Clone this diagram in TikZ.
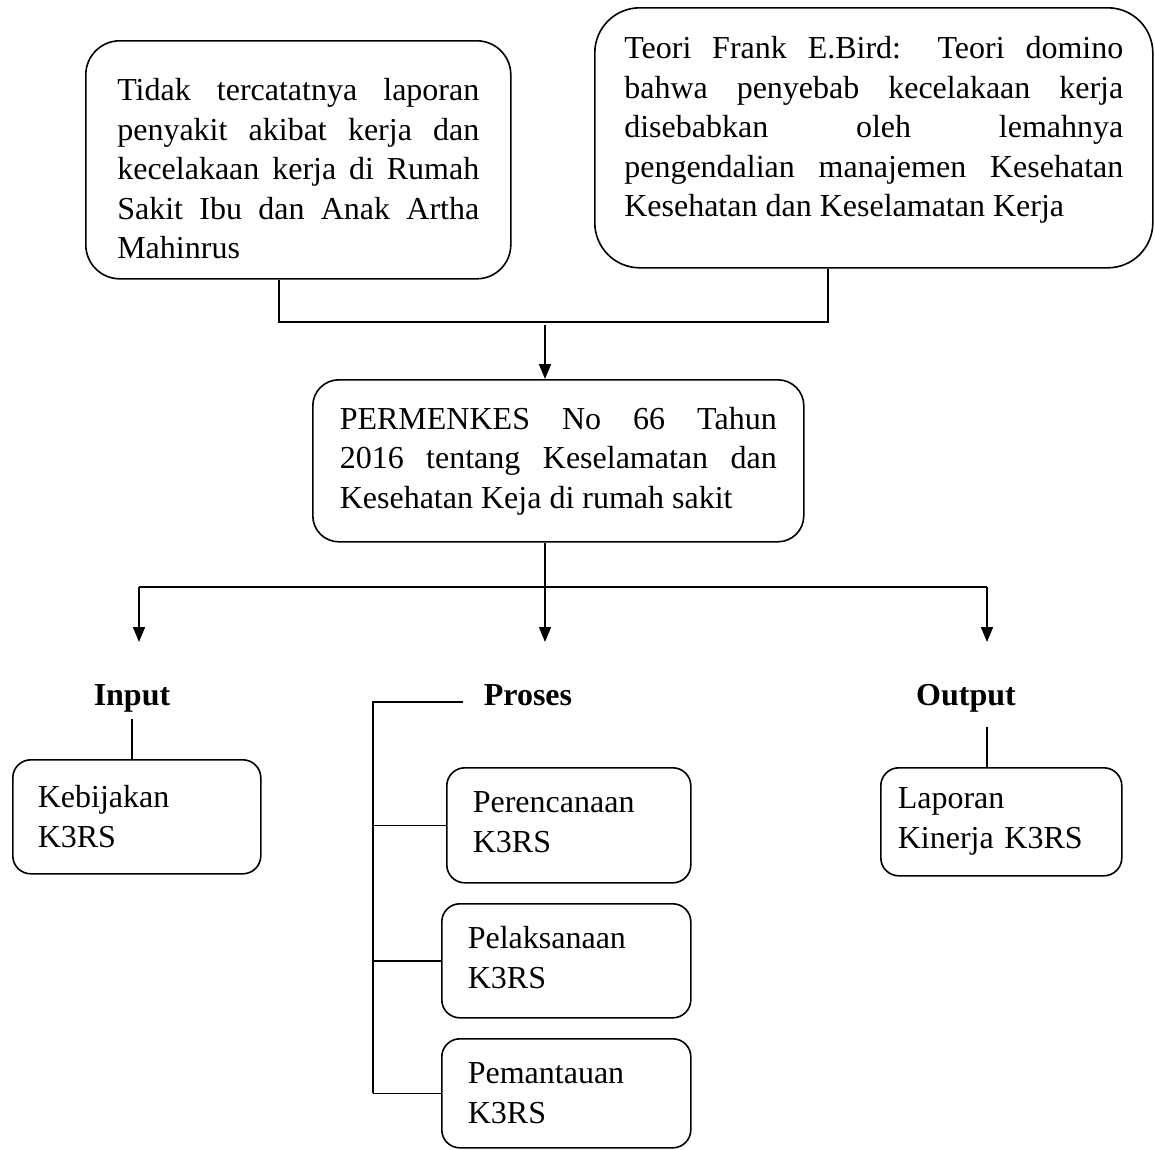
\documentclass[tikz,border=0pt]{standalone}
\usepackage{fontspec}
\setmainfont{Liberation Serif}
\usetikzlibrary{arrows.meta,positioning}
\hyphenpenalty=10000
\exhyphenpenalty=10000
\tolerance=10000
\hbadness=10000

\tikzset{
  conn/.style={line width=1.6pt},
  arr/.style={conn, -{Triangle[length=15pt,width=12pt]}},
  bigbox/.style={draw, line width=1.6pt, inner sep=0pt, align=justify, anchor=north west,
    font={\fontsize{32}{39.5}\selectfont}},
  smallbox/.style={draw, line width=1.6pt, inner sep=0pt, rounded corners=18pt, align=left,
    anchor=north west, font={\fontsize{32}{40}\selectfont}},
  headtext/.style={inner sep=0pt, anchor=base, font={\fontsize{32}{40}\selectfont\bfseries}}
}

\begin{document}
\begin{tikzpicture}[x=1pt,y=-1pt]
  \useasboundingbox (0,0) rectangle (1155,1149);

  % top boxes
  \node[bigbox, rounded corners=34pt, text width=362pt, minimum width=425pt, minimum height=238pt] (tidak) at (85,40)
    {\rule{0pt}{40pt}Tidak tercatatnya laporan\linebreak penyakit akibat kerja dan\linebreak kecelakaan kerja di Rumah\linebreak Sakit Ibu dan Anak Artha\linebreak Mahinrus};
  \node[bigbox, rounded corners=45pt, text width=499pt, minimum width=558pt, minimum height=260pt] (teori) at (594,7)
    {Teori Frank E.Bird: Teori domino\linebreak bahwa penyebab kecelakaan kerja\linebreak disebabkan oleh lemahnya\linebreak pengendalian manajemen Kesehatan\linebreak Kesehatan dan Keselamatan Kerja\rule[-22pt]{0pt}{22pt}};
  \node[bigbox, rounded corners=26pt, text width=437pt, minimum width=491pt, minimum height=162pt] (perm) at (312,379)
    {PERMENKES No 66 Tahun\linebreak 2016 tentang Keselamatan dan\linebreak Kesehatan Keja di rumah sakit};

  \coordinate (j1) at (279,322);
  \coordinate (j2) at (828,322);
  \draw[conn] (j1 |- tidak.south) -- (j1) -- (j2) -- (j2 |- teori.south);
  \coordinate (a0) at (545,325);
  \draw[arr] (a0) -- (a0 |- perm.north);

  % split to three columns
  \coordinate (bL) at (139,587);
  \coordinate (bM) at (545,587);
  \coordinate (bR) at (987,587);
  \draw[conn] (bM |- perm.south) -- (bM);
  \draw[conn] (bL) -- (bR);
  \foreach \c in {bL,bM,bR}
    \draw[arr] (\c) -- ++(0,55);

  \node[headtext] (inp) at (132,705) {Input};
  \node[headtext] (pros) at (528,705) {Proses};
  \node[headtext] (outp) at (966,705) {Output};

  % input
  \node[smallbox, text width=198pt, minimum width=248pt, minimum height=114pt] (kebij) at (12,759)
    {Kebijakan\\K3RS};
  \draw[conn] ([yshift=-7pt]inp.south) -- (inp.south |- kebij.north);

  % proses
  \node[smallbox, text width=192pt, minimum width=244pt, minimum height=115pt] (rencana) at (446,767)
    {Perencanaan\\K3RS\rule[-6pt]{0pt}{6pt}};
  \node[smallbox, text width=197pt, minimum width=249pt, minimum height=114pt] (laksana) at (441,903)
    {Pelaksanaan\\K3RS\rule[-6pt]{0pt}{6pt}};
  \node[smallbox, text width=197pt, minimum width=249pt, minimum height=109pt] (pantau) at (441,1038)
    {Pemantauan\\K3RS};
  \coordinate (pe) at (463,702);
  \coordinate (pk) at (373,702);
  \draw[conn] (pe) -- (pk) -- (pk |- pantau.west);
  \foreach \b in {rencana,laksana,pantau}
    \draw[conn] (pk |- \b.west) -- (\b.west);

  % output
  \node[smallbox, text width=207pt, minimum width=241pt, minimum height=108pt] (lap) at (880,767)
    {Laporan\\Kinerja K3RS};
  \coordinate (oL) at (987,727);
  \draw[conn] (oL) -- (oL |- lap.north);
\end{tikzpicture}
\end{document}
